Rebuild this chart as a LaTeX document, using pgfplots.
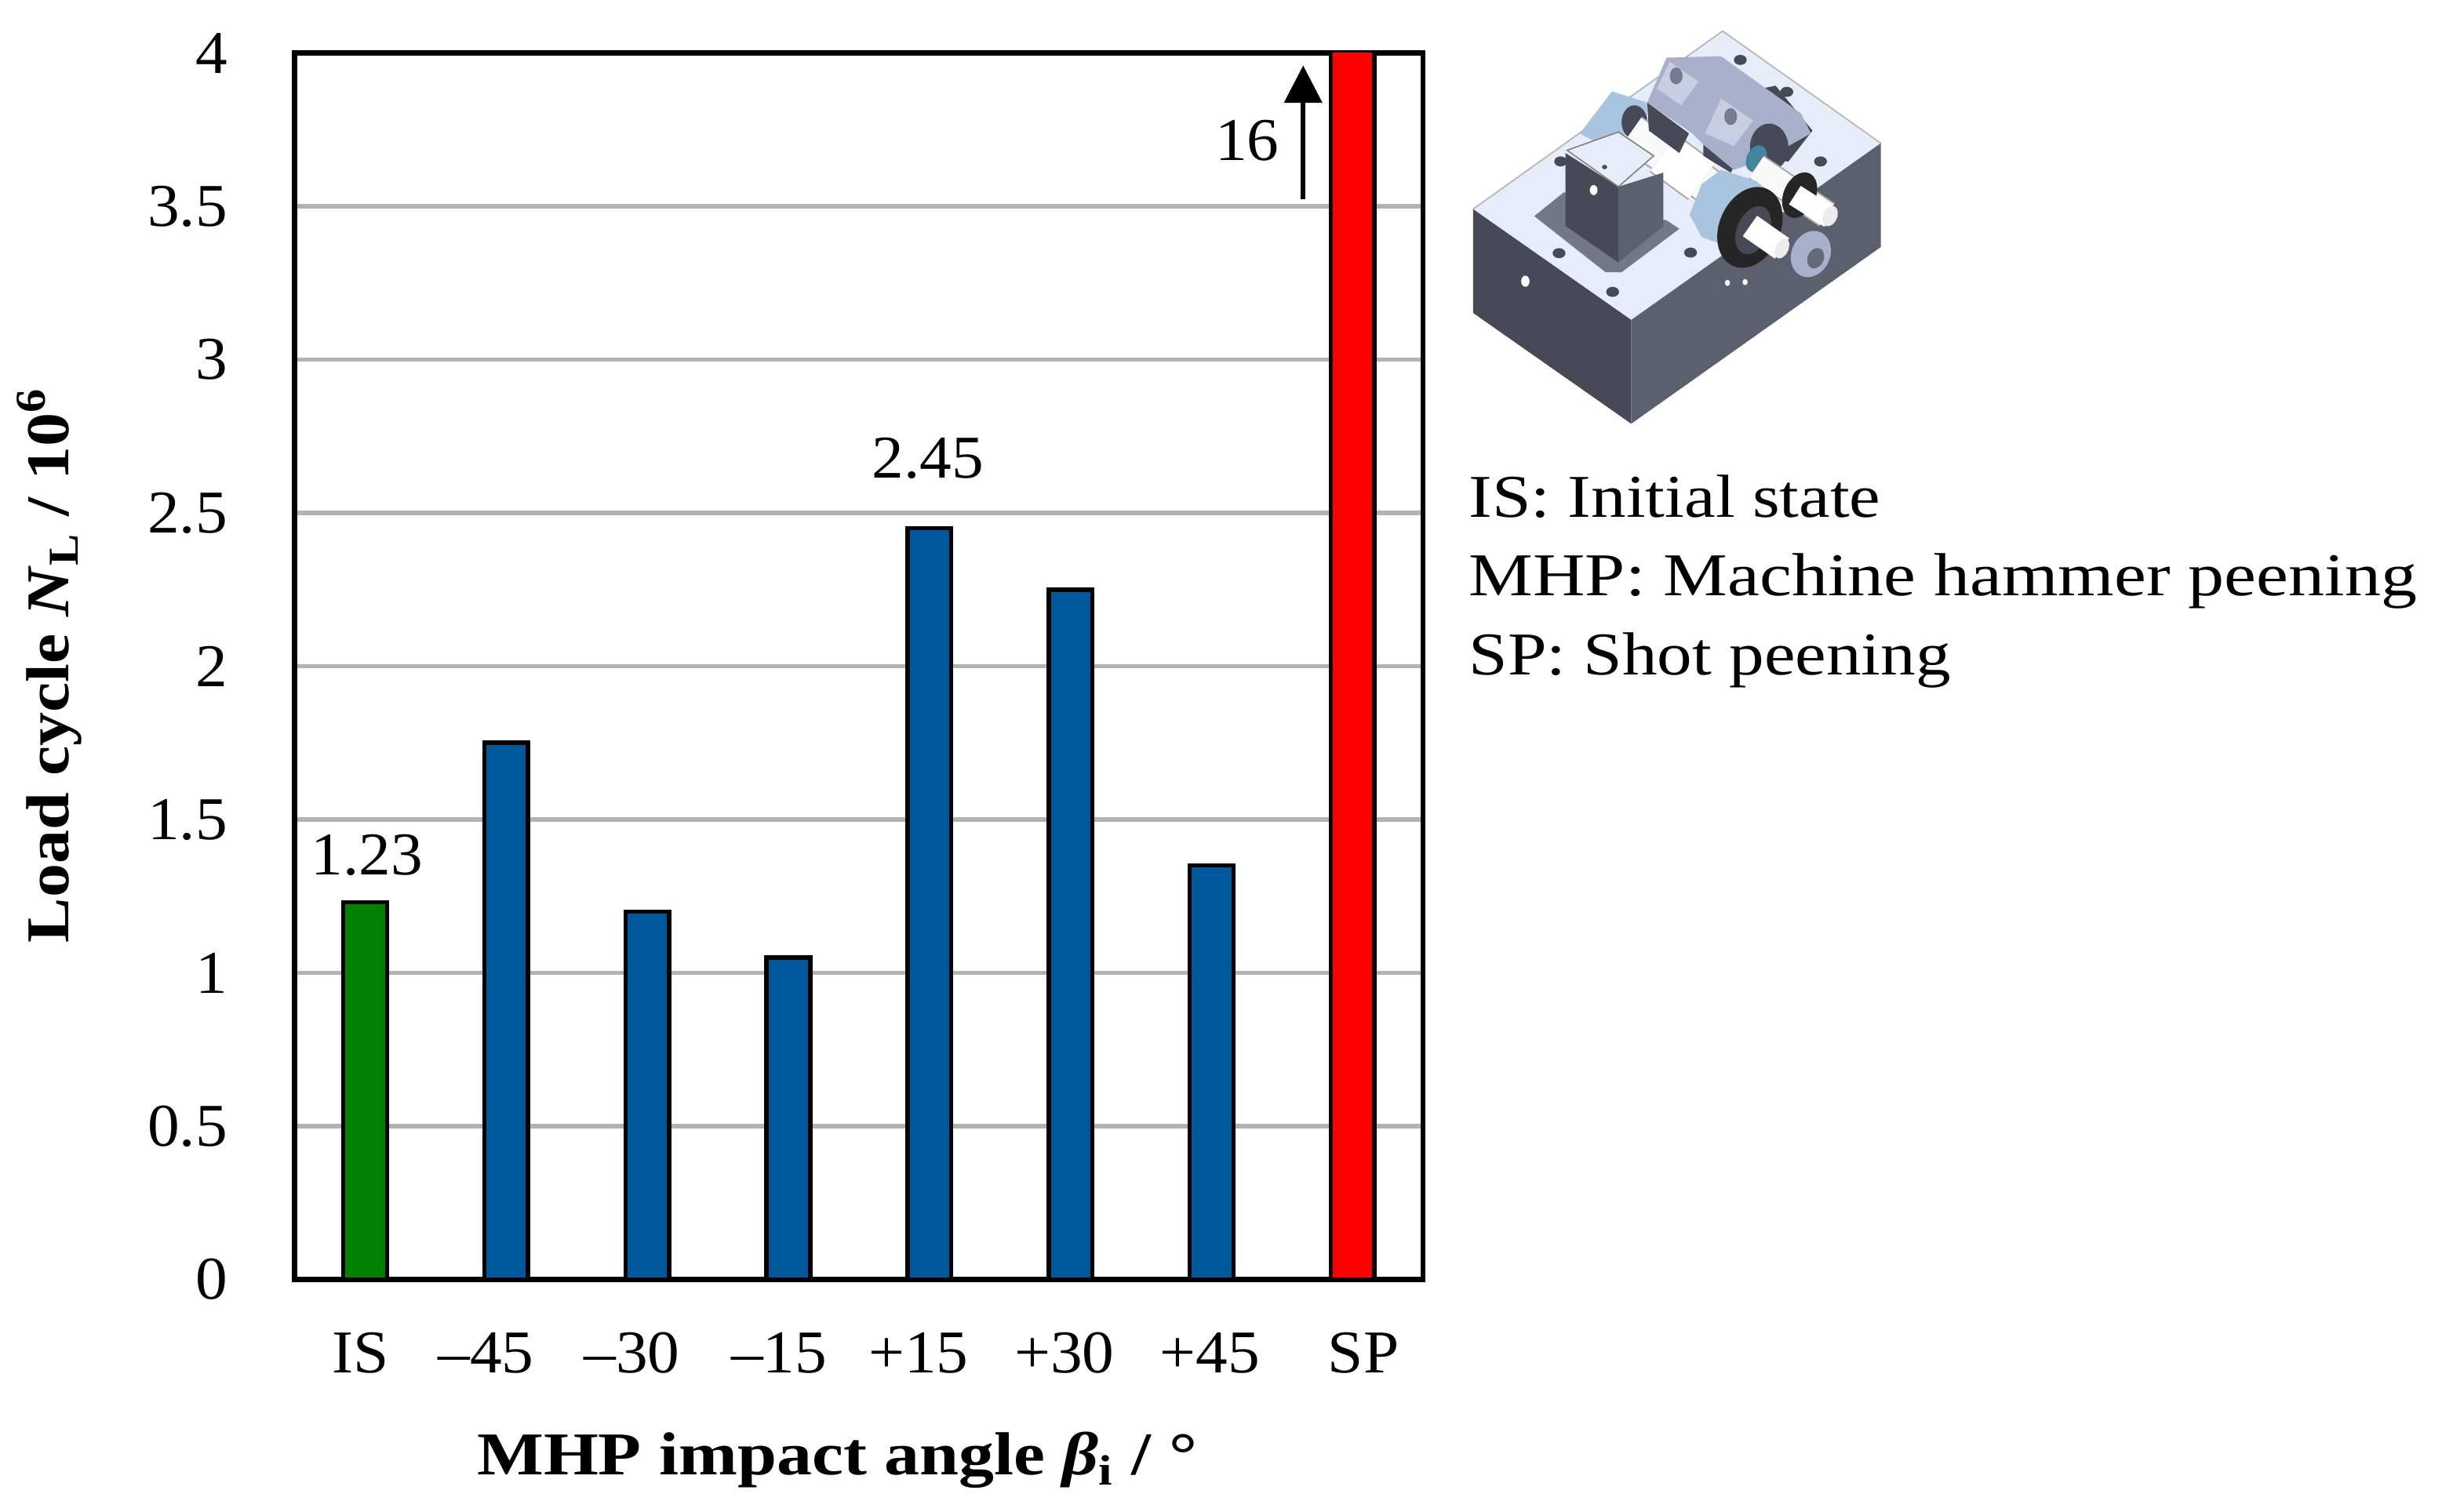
\documentclass[border=0pt]{standalone}
\usepackage{pgfplots}
\pgfplotsset{compat=1.18}
\usepackage{fontspec}
\setmainfont{Liberation Serif}[FakeStretch=1.187]
\newfontfamily\numfont{Liberation Serif}[FakeStretch=1.05]
\newfontfamily\lblx{Liberation Serif}[FakeStretch=1.16]
\newfontfamily\lbly{Liberation Serif}[FakeStretch=1.11]
\newfontfamily\sidefont{Liberation Serif}[FakeStretch=1.15]
\usetikzlibrary{arrows.meta}
\definecolor{mblue}{HTML}{00589C}
\definecolor{mgreen}{HTML}{008000}
\definecolor{mgrid}{HTML}{B2B2B2}
\definecolor{ftop}{HTML}{E6ECF8}
\definecolor{fleft}{HTML}{474A56}
\definecolor{fright}{HTML}{5B5F6E}
\definecolor{fmid}{HTML}{A9B0CC}
\definecolor{fwheel}{HTML}{A9C4DE}
\pgfplotstableread{
x y
0 1.23
}\tabIS
\pgfplotstableread{
x y
1 1.75
2 1.20
3 1.05
4 2.45
5 2.25
6 1.35
}\tabMHP
\pgfplotstableread{
x y
7 16
}\tabSP
\begin{document}
\begin{tikzpicture}[x=1pt,y=1pt]
\useasboundingbox (0,0) rectangle (783.3pt,-485.1pt);
\begin{axis}[
  at={(94.5pt,-410.5pt)},anchor=south west,
  scale only axis,width=362pt,height=393.5pt,
  xmin=-0.5,xmax=7.5,ymin=0,ymax=4,
  ybar,bar shift=0pt,bar width=14pt,
  axis line style={black,line width=1.6pt},
  xtick={-0.033,0.856,1.89,2.934,3.923,4.956,5.989,7.077},
  xticklabels={IS,–45,–30,–15,+15,+30,+45,SP},
  ytick={0,0.5,1,1.5,2,2.5,3,3.5,4},
  yticklabels={0,0.5,1,1.5,2,2.5,3,3.5,4},
  major tick length=0pt,
  ymajorgrids,
  grid style={mgrid,line width=1.4pt},
  tick label style={font=\fontsize{19.5}{22}\numfont},
  xticklabel style={anchor=base,yshift=-30pt},
  yticklabel style={anchor=east,xshift=-18pt},
  xlabel={\lblx\bfseries MHP impact angle \textit{β}\textsubscript{i} / °},
  ylabel={\lbly\bfseries Load cycle \textit{N}\textsubscript{L} / 10\textsuperscript{6}},
  label style={font=\fontsize{19.5}{22}\selectfont},
  xlabel style={at={(axis description cs:0.4807,-0.1595)},anchor=base},
  ylabel style={at={(axis description cs:-0.2003,0.5006)},anchor=base},
]
\addplot[draw=black,line width=1.4pt,fill=mgreen] table[x=x,y=y]{\tabIS};
\addplot[draw=black,line width=1.4pt,fill=mblue] table[x=x,y=y]{\tabMHP};
\addplot[draw=black,line width=1.4pt,fill=red] table[x=x,y=y]{\tabSP};
\node[font=\fontsize{19.5}{22}\numfont,anchor=base] at (axis cs:0.012,1.32) {1.23};
\node[font=\fontsize{19.5}{22}\numfont,anchor=base] at (axis cs:3.99,2.615) {2.45};
\end{axis}
% pixel-coordinate annotations
\begin{scope}[x=0.25pt,y=-0.25pt]
\node[font=\fontsize{19.5}{22}\numfont,anchor=base] at (1600,206) {16};
\draw[line width=1.5pt,-{Triangle[width=12pt,length=12pt]}] (1672,256) -- (1672,84);
\begin{scope}[font=\fontsize{19.5}{22}\selectfont,every node/.style={anchor=base west,inner sep=0pt}]
\node at (1884,664) {\sidefont IS: Initial state};
\node at (1884,764) {MHP: Machine hammer peening};
\node at (1884,866) {\sidefont SP: Shot peening};
\end{scope}
\end{scope}
% illustration of the test rig (zoom coordinates)
\begin{scope}[shift={(453.25pt,-0.5pt)},x=0.1029pt,y=-0.09pt]
\fill[ftop] (187,740)--(965,105)--(1458,505)--(680,1135)--cycle;
\draw[gray!60,line width=.4pt] (187,740)--(965,105)--(1458,505);
\fill[fleft] (187,740)--(680,1135)--(680,1505)--(187,1110)--cycle;
\fill[fright] (680,1135)--(1458,505)--(1458,875)--(680,1505)--cycle;
% pockets
\fill[fright!85!white] (378,765)--(470,680)--(790,780)--(830,810)--(650,965)--(600,965)--cycle;
\fill[fleft] (1000,330)--(1130,300)--(1245,460)--(1170,570)--(1000,560)--cycle;
\foreach \p in {(1020,208),(1165,322),(1270,570),(865,895),(455,897),(622,1035),(460,570)}
  \fill[fleft] \p ellipse (20 and 18);
\fill[white] (350,997) ellipse (13 and 20);
\fill[white] (980,1003) ellipse (8 and 11);
\fill[white] (1035,1000) ellipse (8 and 11);
% rear wheel
\fill[fwheel] (520,470)--(620,320)--(730,360)--(730,420)--(600,520)--cycle;
\fill[fleft] (690,430) ellipse (40 and 60);
% main shaft
\draw[gray!70,line width=12pt] (680,465)--(960,690);
\draw[white!95!gray,line width=11pt] (680,465)--(960,690);
\draw[gray!70,line width=15pt] (780,540)--(900,640);
\draw[white,line width=14pt] (780,540)--(900,640);
% rear block
\fill[fleft] (730,360)--(860,470)--(830,540)--(735,460)--cycle;
\fill[fleft] (905,510)--(1000,590)--(990,610)--(905,550)--cycle;
\fill[fmid] (790,200)--(960,195)--(1210,400)--(1240,470)--(1100,560)--(1000,600)--(905,510)--(870,470)--(730,360)--cycle;
\fill[fmid!50!ftop] (800,215)--(890,285)--(835,370)--(760,310)--cycle;
\fill[fmid!50!ftop] (960,345)--(1060,425)--(1000,515)--(910,470)--cycle;
\fill[fmid!70!black] (820,265) ellipse (20 and 30);
\fill[fmid!70!black] (990,410) ellipse (20 and 30);
% second shaft
\fill[fleft] (1110,520) ellipse (60 and 85);
\fill[cyan!60!black,rotate around={-24:(1070,560)}] (1070,560) ellipse (30 and 50);
\draw[gray!70,line width=9pt] (1070,590)--(1290,760);
\draw[white!95!gray,line width=8pt] (1070,590)--(1290,760);
\fill[black!85,rotate around={-24:(1205,690)}] (1205,690) ellipse (50 and 85);
\draw[white,line width=7pt] (1190,690)--(1300,770);
\fill[white!85!gray,rotate around={-24:(1300,765)}] (1300,765) ellipse (22 and 38);
% flange
\fill[fmid,rotate around={-24:(1240,900)}] (1240,900) ellipse (60 and 85);
\fill[fmid!60!black,rotate around={-24:(1255,915)}] (1255,915) ellipse (25 and 38);
% front housing
\fill[fleft] (475,540)--(640,660)--(640,930)--(475,800)--cycle;
\fill[fright] (640,660)--(780,610)--(780,800)--(640,930)--cycle;
\fill[ftop] (480,530)--(640,465)--(750,550)--(640,660)--cycle;
\draw[gray,line width=.4pt] (480,530)--(640,465)--(750,550)--(640,660)--cycle;
\fill[white] (563,672) ellipse (12 and 18);
\fill[fleft] (597,590) ellipse (8 and 8);
% front wheel and shaft
\fill[fwheel] (862,760)--(900,650)--(960,600)--(1070,640)--(1130,700)--(1000,880)--(900,840)--cycle;
\fill[black!85,rotate around={-24:(1050,805)}] (1050,805) ellipse (95 and 150);
\fill[fleft,rotate around={-24:(1060,815)}] (1060,815) ellipse (50 and 90);
\draw[white,line width=8pt] (1050,800)--(1150,880);
\fill[white!85!gray,rotate around={-24:(1150,880)}] (1150,880) ellipse (20 and 38);
\end{scope}
\end{tikzpicture}
\end{document}
